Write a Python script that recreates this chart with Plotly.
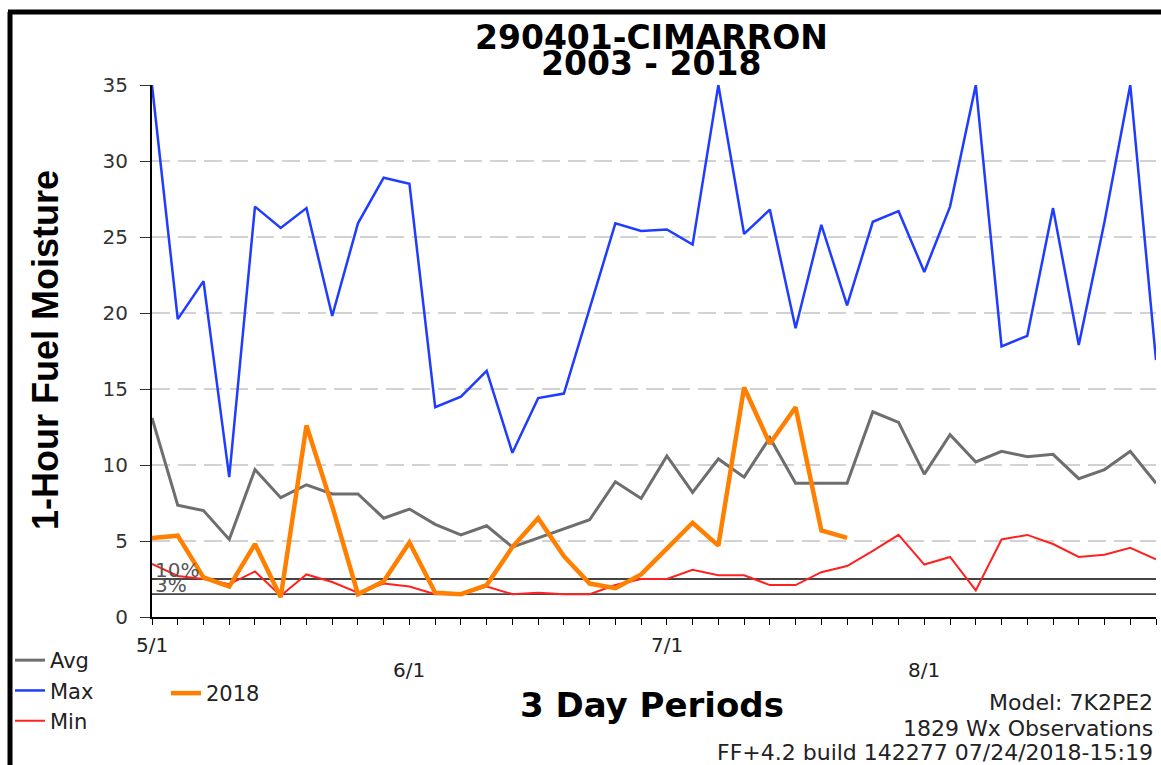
import plotly.graph_objects as go

# 3-day periods starting 5/1
periods = list(range(40))
date_labels = ["5/1", "6/1", "7/1", "8/1"]
date_idx = [0, 10, 20, 30]

max_vals = [35, 19.6, 22.1, 9.2, 27.0, 25.6, 26.9, 19.8, 25.9, 28.9,
            28.5, 13.8, 14.5, 16.2, 10.8, 14.4, 14.7, 20.3, 25.9, 25.4,
            25.5, 24.5, 35, 25.2, 26.8, 19.0, 25.8, 20.5, 26.0, 26.7,
            22.7, 27.0, 35, 17.8, 18.5, 26.9, 17.9, 26.0, 35, 16.9]
avg_vals = [13.1, 7.35, 7.0, 5.1, 9.7, 7.85, 8.7, 8.1, 8.1, 6.5,
            7.1, 6.1, 5.4, 6.0, 4.6, 5.2, 5.8, 6.4, 8.9, 7.8,
            10.6, 8.2, 10.4, 9.2, 11.8, 8.8, 8.8, 8.8, 13.5, 12.8,
            9.4, 12.0, 10.2, 10.9, 10.55, 10.7, 9.1, 9.7, 10.9, 8.8]
min_vals = [3.5, 2.7, 2.5, 2.15, 3.0, 1.4, 2.8, 2.3, 1.6, 2.2,
            2.0, 1.5, 1.5, 2.0, 1.5, 1.6, 1.5, 1.5, 2.1, 2.5,
            2.5, 3.1, 2.75, 2.75, 2.1, 2.1, 2.95, 3.35, 4.35, 5.4,
            3.45, 3.95, 1.75, 5.1, 5.4, 4.8, 3.95, 4.1, 4.55, 3.8]
vals_2018 = [5.2, 5.35, 2.6, 2.0, 4.8, 1.3, 12.6, 7.3, 1.5, 2.35,
             4.9, 1.6, 1.5, 2.1, 4.6, 6.5, 4.0, 2.2, 1.9, 2.8,
             4.5, 6.2, 4.7, 15.1, 11.4, 13.8, 5.7, 5.2]

pct10 = 2.5
pct3 = 1.5

W, H = 1161, 765
L, R, T, B = 152, 5, 85, 148


def px(x):
    # pixel -> paper x
    return (x - L) / (W - L - R)


def py(y):
    # pixel -> paper y
    return (H - B - y) / (H - T - B)


FONT = "DejaVu Sans"
TXT = "#222222"

fig = go.Figure()

# percentile reference lines
for v in (pct10, pct3):
    fig.add_trace(go.Scatter(x=[periods[0], periods[-1]], y=[v, v], mode="lines",
                             line=dict(color="#444444", width=1.8),
                             showlegend=False, hoverinfo="skip"))

fig.add_trace(go.Scatter(x=periods, y=avg_vals, mode="lines", name="Avg",
                         line=dict(color="#6e6e6e", width=3)))
fig.add_trace(go.Scatter(x=periods, y=max_vals, mode="lines", name="Max",
                         line=dict(color="#1f3cff", width=2.5)))
fig.add_trace(go.Scatter(x=periods, y=min_vals, mode="lines", name="Min",
                         line=dict(color="#ff2020", width=2)))
fig.add_trace(go.Scatter(x=periods[:len(vals_2018)], y=vals_2018, mode="lines", name="2018",
                         line=dict(color="#ff8000", width=4.5), legend="legend2"))


def note(text, x, y, size, family=FONT, color=TXT, **kw):
    d = dict(text=text, x=px(x), y=py(y), xref="paper", yref="paper", showarrow=False,
             xanchor="center", yanchor="middle",
             font=dict(family=family, size=size, color=color))
    d.update(kw)
    return d


annotations = [
    note("<b>290401-CIMARRON</b>", 651, 37, 33, color="black", borderpad=0),
    note("<b>2003 - 2018</b>", 651, 63, 33, color="black", borderpad=0),
    note("<b>1-Hour Fuel Moisture</b>", 45, 350, 36, family="Liberation Sans",
         color="black", textangle=-90),
    note("<b>3 Day Periods</b>", 652, 705, 34, color="black"),
    note("Model: 7K2PE2", 1154, 702, 22, xanchor="right", borderpad=0),
    note("1829 Wx Observations", 1154, 728, 22, xanchor="right", borderpad=0),
    note("FF+4.2 build 142277 07/24/2018-15:19", 1154, 752, 22, xanchor="right", borderpad=0),
    dict(text="10%", x=periods[0], y=pct10, xanchor="left", yanchor="bottom",
         xshift=1, yshift=-5, showarrow=False, font=dict(family=FONT, size=20, color="#555555")),
    dict(text="3%", x=periods[0], y=pct3, xanchor="left", yanchor="bottom",
         xshift=1, yshift=-5, showarrow=False, font=dict(family=FONT, size=20, color="#555555")),
]

# staggered month labels
for k, (lab, i) in enumerate(zip(date_labels, date_idx)):
    annotations.append(dict(text=lab, x=periods[i], y=py(645 if k % 2 == 0 else 670),
                            xref="x", yref="paper", showarrow=False,
                            xanchor="center", yanchor="middle",
                            font=dict(family=FONT, size=20, color=TXT)))

# outer frame (left and top edges)
shapes = [
    dict(type="line", xref="paper", yref="paper", x0=px(10), x1=px(10), y0=py(12), y1=py(H + 5),
         line=dict(color="black", width=5)),
    dict(type="line", xref="paper", yref="paper", x0=px(8), x1=px(W + 5), y0=py(12), y1=py(12),
         line=dict(color="black", width=5)),
]

fig.update_layout(
    width=W, height=H,
    margin=dict(l=L, r=R, t=T, b=B),
    paper_bgcolor="white", plot_bgcolor="white",
    annotations=annotations,
    shapes=shapes,
    legend=dict(x=px(10), y=py(640), xanchor="left", yanchor="top",
                font=dict(family=FONT, size=21, color=TXT),
                bgcolor="rgba(0,0,0,0)", tracegroupgap=0),
    legend2=dict(x=px(166), y=py(673), xanchor="left", yanchor="top",
                 font=dict(family=FONT, size=21, color=TXT),
                 bgcolor="rgba(0,0,0,0)"),
    xaxis=dict(range=[periods[0], periods[-1]], tickvals=periods, ticktext=[""] * len(periods),
               showline=True, linecolor="black", linewidth=2, ticks="outside", ticklen=6,
               tickcolor="black", showgrid=False, zeroline=False),
    yaxis=dict(range=[0, 35], dtick=5, showline=True, linecolor="black", linewidth=2,
               ticks="outside", ticklen=10, tickcolor="#333333", ticklabelstandoff=8,
               tickfont=dict(family=FONT, size=20, color="#333333"),
               showgrid=True, gridcolor="#d2d2d2", gridwidth=1.5, griddash="18px,8px",
               zeroline=False),
)

fig.write_html("out.html", config={"displayModeBar": False},
               post_script="document.body.style.margin='0';")
